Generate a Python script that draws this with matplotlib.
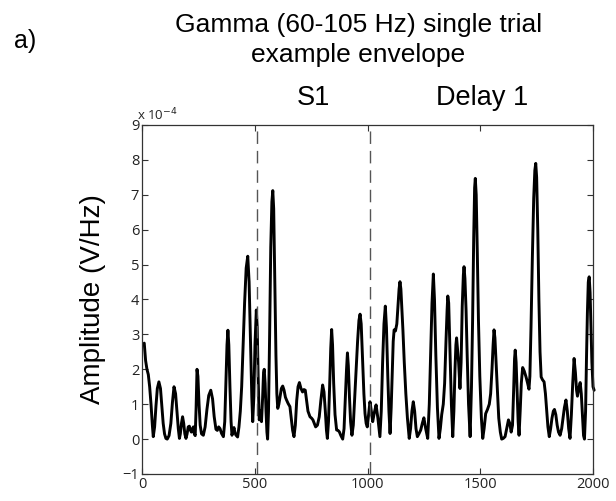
import numpy as np
import matplotlib
matplotlib.use("Agg")
import matplotlib.pyplot as plt
from matplotlib.ticker import FuncFormatter

# (time ms, amplitude in units of 1e-4 V/Hz), in four stretches
env_0_500 = [(10, 2.75), (16, 2.25), (22, 2.0), (28, 1.85), (34, 1.5), (40, 1.0), (46, 0.4), (50, 0.07),
             (56, 0.35), (62, 0.95), (68, 1.45), (75, 1.64), (82, 1.45), (88, 0.95), (94, 0.45),
             (100, 0.15), (106, 0.02), (112, 0.0), (120, 0.1), (128, 0.45), (135, 1.05),
             (142, 1.5), (149, 1.3), (155, 0.8), (161, 0.3), (166, 0.02), (170, 0.15), (175, 0.45),
             (180, 0.64), (185, 0.45), (190, 0.15), (195, 0.02), (200, 0.15), (205, 0.35), (210, 0.37),
             (215, 0.25), (219, 0.2), (224, 0.3), (228, 0.35), (232, 0.15), (236, 0.1), (240, 0.9),
             (244, 2.0), (248, 1.8), (253, 1.0), (258, 0.4), (264, 0.15), (272, 0.11), (280, 0.35),
             (288, 0.85), (296, 1.25), (305, 1.40), (313, 1.15), (320, 0.65), (328, 0.28), (334, 0.25),
             (340, 0.35), (346, 0.3), (353, 0.16), (361, 0.07), (367, 0.5), (372, 1.6), (377, 2.7),
             (381, 3.12), (385, 2.7), (390, 1.5), (395, 0.5), (399, 0.11), (404, 0.25), (408, 0.33),
             (412, 0.2), (416, 0.12), (424, 0.06), (430, 0.35), (436, 0.8), (442, 1.5), (448, 2.6),
             (455, 3.9), (462, 4.9), (469, 5.24), (475, 4.5), (481, 2.8), (487, 1.2), (491, 0.5),
             (496, 1.2), (501, 2.7)]
env_500_1000 = [(507, 3.7), (511, 3.2), (515, 1.8), (520, 0.55), (525, 0.8), (530, 0.5), (535, 1.2),
                (539, 1.9), (542, 2.0), (546, 1.6), (550, 0.8), (554, 0.2), (557, 0.0), (561, 0.8),
                (566, 3.0), (571, 5.5), (576, 6.8), (580, 7.12), (584, 6.6), (589, 4.5), (594, 2.4),
                (598, 1.3), (602, 0.88), (607, 1.0), (612, 1.2), (618, 1.45), (624, 1.52), (630, 1.4),
                (636, 1.2), (641, 1.12), (648, 1.02), (656, 0.93), (662, 0.6), (668, 0.25), (674, 0.07),
                (680, 0.4), (686, 1.1), (692, 1.5), (698, 1.62), (705, 1.45), (712, 1.35), (718, 1.42),
                (724, 1.4), (730, 1.1), (736, 0.8), (745, 0.64), (752, 0.6), (758, 0.55), (764, 0.45),
                (770, 0.35), (778, 0.4), (786, 0.64), (793, 1.1), (801, 1.55), (807, 1.35), (813, 0.8),
                (818, 0.25), (822, 0.02), (827, 0.5), (832, 1.5), (837, 2.6), (841, 3.14), (845, 2.7),
                (850, 1.6), (856, 0.7), (863, 0.26), (869, 0.25), (875, 0.21), (882, 0.1), (890, 0.0),
                (896, 0.3), (902, 1.2), (907, 2.0), (911, 2.47), (915, 2.1), (920, 1.2), (925, 0.5),
                (931, 0.11), (937, 0.4), (944, 1.3), (950, 2.1), (956, 2.8), (962, 3.4), (967, 3.58),
                (972, 3.3), (978, 2.3), (984, 1.3), (989, 0.73), (994, 0.45), (999, 0.35)]
env_1000_1500 = [(1005, 0.7), (1011, 1.07), (1017, 0.8), (1023, 0.5), (1030, 0.75), (1038, 0.98),
                 (1046, 0.6), (1055, 0.07), (1061, 0.8), (1067, 2.2), (1073, 3.3), (1079, 3.81),
                 (1084, 3.2), (1090, 1.8), (1095, 0.8), (1100, 0.16), (1105, 0.9), (1110, 2.0),
                 (1114, 2.8), (1118, 3.13), (1124, 3.1), (1130, 3.3), (1135, 3.8), (1140, 4.3),
                 (1144, 4.51), (1148, 4.3), (1152, 3.8), (1157, 3.13), (1163, 2.2), (1170, 1.3),
                 (1177, 0.6), (1185, 0.02), (1191, 0.3), (1197, 0.8), (1203, 1.07), (1209, 0.8),
                 (1215, 0.3), (1221, 0.07), (1228, 0.15), (1236, 0.26), (1243, 0.45), (1250, 0.61),
                 (1258, 0.3), (1267, 0.02), (1274, 1.0), (1280, 2.5), (1286, 3.9), (1292, 4.73),
                 (1297, 4.0), (1303, 2.4), (1310, 0.9), (1317, 0.02), (1323, 0.3), (1329, 0.7),
                 (1336, 1.0), (1342, 1.6), (1348, 2.8), (1353, 3.7), (1356, 4.1), (1360, 3.9),
                 (1366, 2.5), (1372, 1.0), (1378, 0.07), (1383, 0.8), (1388, 2.0), (1392, 2.7),
                 (1395, 2.9), (1399, 2.6), (1404, 2.2), (1410, 1.45), (1415, 2.2), (1420, 3.8),
                 (1425, 4.7), (1428, 4.94), (1432, 4.6), (1437, 3.7), (1442, 2.4), (1448, 1.0),
                 (1455, 0.07), (1461, 1.5), (1466, 3.4), (1471, 5.8), (1475, 7.2), (1478, 7.47),
                 (1482, 7.0), (1487, 5.3), (1492, 3.4), (1498, 1.8)]
env_1500_2000 = [(1505, 0.6), (1511, 0.02), (1517, 0.3), (1524, 0.73), (1532, 0.85), (1540, 1.0),
                 (1546, 1.3), (1552, 2.0), (1557, 2.7), (1561, 3.13), (1565, 2.9), (1570, 2.2),
                 (1576, 1.4), (1582, 0.6), (1589, 0.2), (1595, 0.0), (1602, 0.02), (1610, 0.07),
                 (1617, 0.3), (1625, 0.55), (1631, 0.45), (1637, 0.2), (1643, 0.4), (1648, 1.4),
                 (1652, 2.3), (1655, 2.55), (1659, 2.2), (1664, 1.3), (1668, 0.5), (1672, 0.11),
                 (1677, 0.8), (1682, 1.6), (1688, 2.05), (1695, 1.95), (1703, 1.78), (1710, 1.6),
                 (1716, 1.43), (1720, 1.8), (1725, 3.2), (1731, 5.2), (1737, 6.9), (1742, 7.7),
                 (1746, 7.9), (1750, 7.5), (1755, 6.0), (1760, 4.0), (1765, 2.5), (1770, 1.78),
                 (1776, 1.7), (1783, 1.64), (1789, 1.3), (1795, 0.8), (1800, 0.35), (1806, 0.07),
                 (1812, 0.3), (1818, 0.6), (1824, 0.8), (1829, 0.85), (1835, 0.7), (1841, 0.4),
                 (1847, 0.2), (1854, 0.11), (1861, 0.3), (1867, 0.6), (1873, 0.9), (1880, 1.12),
                 (1886, 0.8), (1892, 0.3), (1898, 0.02), (1904, 0.7), (1910, 1.6), (1916, 2.31),
                 (1922, 1.9), (1927, 1.4), (1931, 1.23), (1937, 1.45), (1943, 1.62), (1948, 1.3),
                 (1953, 0.7), (1958, 0.1), (1962, 0.0), (1967, 0.8), (1971, 2.3), (1975, 3.6),
                 (1979, 4.5), (1983, 4.65), (1987, 4.2), (1991, 3.2), (1995, 2.2), (2000, 1.5),
                 (2005, 1.4)]
epoch_bounds = [510, 1010]
epoch_labels = ["S1", "Delay 1"]
x_ticks = [0, 500, 1000, 1500, 2000]
y_ticks = [-1, 0, 1, 2, 3, 4, 5, 6, 7, 8, 9]
scale = 1e-4

envelope = np.array(env_0_500 + env_500_1000 + env_1000_1500 + env_1500_2000)
time_ms = envelope[:, 0]
amp = envelope[:, 1] * scale

txt_font = ["Liberation Sans", "DejaVu Sans"]
tick_font = ["Open Sans", "DejaVu Sans"]
axcol = "#333333"

fig = plt.figure(figsize=(6.16, 5.01), dpi=100)
ax = fig.add_axes([0.2305, 0.0539, 0.7322, 0.6966])

ax.plot(time_ms, amp, color="black", lw=2.1, clip_on=False,
        solid_joinstyle="round", solid_capstyle="round")
for b in epoch_bounds:
    ax.axvline(b, color="#555555", lw=1.0, dashes=(9, 5))

ax.set_xlim(0, 2000)
ax.set_ylim(-1 * scale, 9 * scale)
ax.set_xticks(x_ticks)
ax.set_yticks(np.array(y_ticks) * scale)
ax.yaxis.set_major_formatter(FuncFormatter(lambda v, p: f"{int(round(v / scale))}".replace("-", "\u2212")))
ax.tick_params(direction="in", length=4, width=0.8, top=True, right=True, colors=axcol,
               labelsize=10.5, pad=2)
for lab in ax.get_xticklabels() + ax.get_yticklabels():
    lab.set_family(tick_font)
    lab.set_color("#222222")
for s in ax.spines.values():
    s.set_color(axcol)
    s.set_linewidth(0.9)

ax.text(-0.01, 1.005, r"x 10$^{-4}$", transform=ax.transAxes, fontsize=9.5, ha="left", va="bottom",
        family=tick_font, color="#222222")

ax.set_ylabel("Amplitude (V/Hz)", fontsize=20, family=txt_font, labelpad=12)

fig.text(0.582, 0.936, "Gamma (60-105 Hz) single trial", fontsize=19, family=txt_font,
         ha="center", va="baseline")
fig.text(0.582, 0.876, "example envelope", fontsize=19, family=txt_font, ha="center", va="baseline")
fig.text(0.04, 0.918, "a)", fontsize=18, family=txt_font, ha="center", va="center")

label_pos = [760, 1510]
for lab, xp in zip(epoch_labels, label_pos):
    ax.text(xp, 1.057, lab, transform=ax.get_xaxis_transform(), fontsize=19.5, family=txt_font,
            ha="center", va="baseline")

fig.savefig("out.png", dpi=100)
